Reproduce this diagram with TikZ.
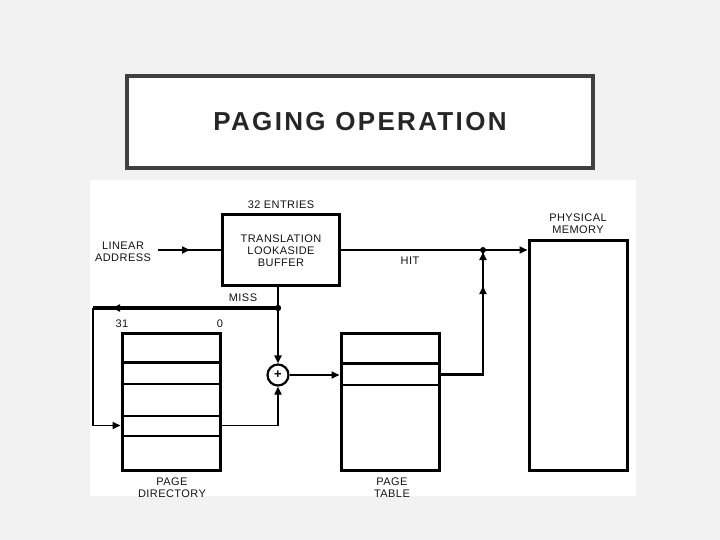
\documentclass[tikz,border=0pt]{standalone}
\usepackage{fontspec}
\setmainfont{Liberation Sans}
\newfontfamily\titlefont[LetterSpace=9]{Liberation Sans}
\newfontfamily\labfont[LetterSpace=4]{Liberation Sans}
\usetikzlibrary{arrows.meta,decorations.markings,calc}
\definecolor{slidebg}{RGB}{242,242,242}
\definecolor{framegray}{RGB}{64,64,64}
\definecolor{titlecol}{RGB}{38,38,38}
\definecolor{inkcol}{RGB}{20,20,20}
\begin{document}
\begin{tikzpicture}[x=1pt,y=-1pt,
  lab/.style={font=\labfont\fontsize{11}{11.8}\selectfont, text=inkcol, align=center, inner sep=0pt},
  blk/.style={draw=black, line width=3pt, rectangle, inner sep=0pt},
  tip/.style={-{Triangle[length=8pt,width=7pt]}},
  arrowat/.style={postaction={decorate,decoration={markings,mark=at position #1 with {\arrow{Triangle[length=8pt,width=7pt]}}}}},
  dotmark/.style={fill=black}]
\useasboundingbox (0,0) rectangle (720,540);
\fill[slidebg] (0,0) rectangle (720,540);
% title
\node[draw=framegray, line width=3.8pt, fill=white, minimum width=466.5pt, minimum height=92.5pt, inner sep=0pt,
      font=\titlefont\bfseries\fontsize{26}{30}\selectfont, text=titlecol] (titlebox) at (360,122) {PAGING OPERATION};
% diagram area
\fill[white] (90,180) rectangle (636,496);
% blocks
\node[blk, minimum width=117pt, minimum height=70pt] (TLB) at (280.5,250) {};
\node[lab] (tlbtext) at (281,251) {TRANSLATION\\LOOKASIDE\\BUFFER};
\node[lab] (entries) at (281,205) {32 ENTRIES};
\node[blk, minimum width=98pt, minimum height=230pt] (PM) at (578,355) {};
\node[lab] (pmlab) at (578,224) {PHYSICAL\\MEMORY};
\node[blk, minimum width=98pt, minimum height=137pt] (PD) at (171,401.5) {};
\node[lab] (pdlab) at (172,487.5) {PAGE\\DIRECTORY};
\node[blk, minimum width=98pt, minimum height=137pt] (PT) at (390,401.5) {};
\node[lab] (ptlab) at (392,487.5) {PAGE\\TABLE};
\node[circle, draw=black, line width=2.2pt, minimum size=21pt, inner sep=0pt,
      font=\bfseries\fontsize{13}{13}\selectfont] (sum) at (278,375) {+};
% rows of page directory
\draw[line width=2.4pt] ($(PD.north west)+(0,31)$) -- ($(PD.north east)+(0,31)$);
\draw[line width=2pt] ($(PD.north west)+(0,52)$) -- ($(PD.north east)+(0,52)$);
\draw[line width=2pt] ($(PD.north west)+(0,84)$) -- ($(PD.north east)+(0,84)$);
\draw[line width=2pt] ($(PD.north west)+(0,104)$) -- ($(PD.north east)+(0,104)$);
% rows of page table
\draw[line width=2.4pt] ($(PT.north west)+(0,32)$) -- ($(PT.north east)+(0,32)$);
\draw[line width=2pt] ($(PT.north west)+(0,53)$) -- ($(PT.north east)+(0,53)$);
% labels
\node[lab] (lalab) at (123,251.5) {LINEAR\\ADDRESS};
\node[lab] (hitlab) at (410,261) {HIT};
\node[lab] (misslab) at (243,298) {MISS};
\node[lab] (b31) at (122,324) {31};
\node[lab] (b0) at (220,324) {0};
% connectors
\coordinate (la) at (158,250);
\draw[line width=1.8pt, arrowat=32pt] (la) -- (TLB.west);
\coordinate (hitdot) at (483,250);
\draw[line width=2.2pt, tip] (TLB.east) -- (TLB.east -| PM.west);
\fill[dotmark] (hitdot) circle (3pt);
\draw[line width=2.6pt, arrowat=131pt, arrowat=165pt] ($(PT.north east)+(0,43)$) -| (hitdot);
\draw[line width=2.6pt, tip] (TLB.south -| sum) -- (sum.north);
\coordinate (missdot) at (278,308);
\coordinate (loop) at (93,308);
\draw[line width=3.2pt, arrowat=166pt] (missdot) -- (loop);
\fill[dotmark] (missdot) circle (3.2pt);
\draw[line width=1.8pt, tip] (loop) |- ($(PD.north west)+(0,94)$);
\draw[line width=1.8pt, tip] ($(PD.north east)+(0,94)$) -| (sum.south);
\draw[line width=1.8pt, tip] (sum.east) -- (sum.east -| PT.west);
\end{tikzpicture}
\end{document}
